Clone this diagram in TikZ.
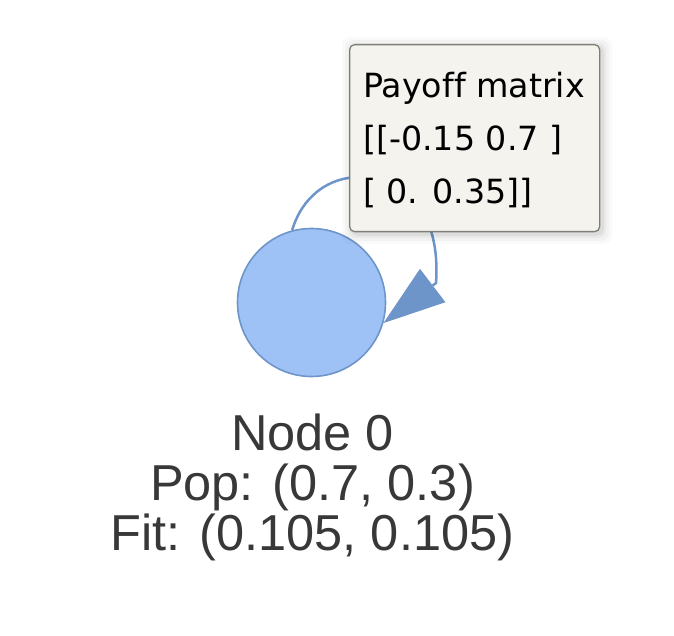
\documentclass[tikz,border=0pt]{standalone}
\usepackage{fontspec}
\setmainfont{Liberation Sans}
\newfontfamily\tipfont[Ligatures={NoCommon}]{DejaVu Sans}
\usetikzlibrary{arrows.meta}
\definecolor{nodefill}{HTML}{9EC2F5}
\definecolor{nodeline}{HTML}{6E95CA}
\definecolor{tipfill}{HTML}{F4F3EE}
\definecolor{tipline}{HTML}{7E7E74}
\definecolor{labeltext}{HTML}{383838}
\tikzset{
  agent/.style={circle, minimum size=148pt, inner sep=0pt, fill=nodefill, draw=nodeline, line width=1.6pt},
  selfloop/.style={draw=nodeline, line width=2.5pt, -{Triangle[length=62pt,width=42pt,fill=nodeline,line width=0pt]}},
  tipbox/.style={rectangle, rounded corners=5pt, fill=tipfill, draw=tipline, line width=1.3pt, minimum width=250pt, minimum height=187pt, inner sep=0pt, anchor=north west},
  tiptext/.style={font=\tipfont\fontsize{33.3pt}{53pt}\selectfont, align=left, inner sep=0pt, anchor=north west, text=black},
  nodelabel/.style={font=\fontsize{50.5pt}{50pt}\selectfont, align=center, inner sep=0pt, anchor=north, text=labeltext}
}
\begin{document}
\begin{tikzpicture}[x=1pt,y=-1pt]
\useasboundingbox (0,0) rectangle (674,636);
\node[agent] (n) at (311.5,302.5) {};
\draw[selfloop] (n.105) .. controls (302,197) and (328,177) .. (360,177)
   .. controls (405,177) and (441,212) .. (436,283) -- (n.-16);
\node[nodelabel] (lab) at (312.5,413.5) {Node 0\\Pop: (0.7, 0.3)\\Fit: (0.105, 0.105)};
% tooltip shadow
\foreach \s/\o in {10/0.02,7/0.03,4/0.04,2/0.05}{
  \fill[black, opacity=\o, rounded corners=8pt] (349+3-\s,44+3-\s) rectangle (599+3+\s,231+3+\s);
}
\node[tipbox] (tip) at (349,44) {};
\node[tiptext] (tipt) at (363,72.3) {Payoff matrix\\{}[[-0.15 0.7 ]\\{}[ 0. 0.35]]};
\end{tikzpicture}
\end{document}
